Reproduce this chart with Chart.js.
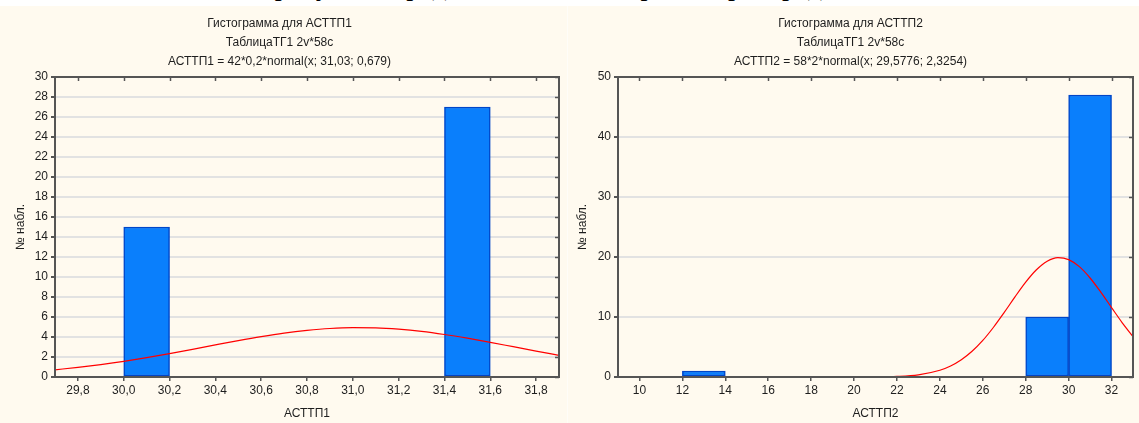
<!DOCTYPE html>
<html><head><meta charset="utf-8">
<script src="https://cdn.jsdelivr.net/npm/chart.js@4.4.1/dist/chart.umd.min.js"></script>
<style>
html,body{margin:0;padding:0;background:#fff;}
body{width:1139px;height:423px;position:relative;overflow:hidden;font-family:"Liberation Sans",Arial,sans-serif;}
#topText{position:absolute;left:0;top:-28px;width:1139px;text-align:center;font-family:"Liberation Serif","Times New Roman",serif;font-size:28px;line-height:28px;color:#000;white-space:nowrap;}
.panel{position:absolute;top:6px;height:417px;background:#fffaef;}
#p1{left:0;width:567px;}
#p2{left:568px;width:571px;}
#sep{position:absolute;left:567px;top:6px;width:1px;height:417px;background:#fffdf8;}
canvas{display:block;}
</style></head>
<body>
<div id="topText">На рисунках представлены гистограммы распределения</div>
<div class="panel" id="p1"><canvas id="c1" width="567" height="417"></canvas></div>
<div id="sep"></div>
<div class="panel" id="p2"><canvas id="c2" width="571" height="417"></canvas></div>
<script>
// ---- Chart 1 data (АСТТП1) ----
const titles1 = ["Гистограмма для АСТТП1", "ТаблицаТГ1 2v*58c", "АСТТП1 = 42*0,2*normal(x; 31,03; 0,679)"];
const binCenters1 = [30.1, 31.5];
const counts1 = [15, 27];
const curveX1 = [29.7, 29.8, 29.9, 30.0, 30.1, 30.2, 30.3, 30.4, 30.5, 30.6, 30.7, 30.8, 30.9, 31.0, 31.1, 31.2, 31.3, 31.4, 31.5, 31.6, 31.7, 31.8, 31.9];
const curveY1 = [0.72, 0.96, 1.24, 1.56, 1.93, 2.34, 2.77, 3.21, 3.64, 4.04, 4.39, 4.66, 4.85, 4.93, 4.91, 4.78, 4.56, 4.25, 3.88, 3.47, 3.03, 2.59, 2.17];
const xRange1 = [29.7, 31.9];
const xTicks1 = [29.8, 30.0, 30.2, 30.4, 30.6, 30.8, 31.0, 31.2, 31.4, 31.6, 31.8];
const xTickLabels1 = ["29,8", "30,0", "30,2", "30,4", "30,6", "30,8", "31,0", "31,2", "31,4", "31,6", "31,8"];
const yTicks1 = [0, 2, 4, 6, 8, 10, 12, 14, 16, 18, 20, 22, 24, 26, 28, 30];
const xLabel1 = "АСТТП1";

// ---- Chart 2 data (АСТТП2) ----
const titles2 = ["Гистограмма для АСТТП2", "ТаблицаТГ1 2v*58c", "АСТТП2 = 58*2*normal(x; 29,5776; 2,3254)"];
const binCenters2 = [13, 29, 31];
const counts2 = [1, 10, 47];
const curveX2 = [9, 12, 15, 18, 19, 20, 21, 22, 23, 24, 24.5, 25, 25.5, 26, 26.5, 27, 27.5, 28, 28.5, 29, 29.5, 30, 30.5, 31, 31.5, 32, 32.5, 33];
const curveY2 = [0, 0, 0, 0, 0.001, 0.004, 0.022, 0.098, 0.364, 1.12, 1.83, 2.87, 4.28, 6.09, 8.29, 10.76, 13.35, 15.81, 17.87, 19.29, 19.89, 19.57, 18.39, 16.50, 14.14, 11.57, 9.03, 6.74];
const xRange2 = [9, 33];
const xTicks2 = [10, 12, 14, 16, 18, 20, 22, 24, 26, 28, 30, 32];
const xTickLabels2 = ["10", "12", "14", "16", "18", "20", "22", "24", "26", "28", "30", "32"];
const yTicks2 = [0, 10, 20, 30, 40, 50];
const xLabel2 = "АСТТП2";

const yLabel = "№ набл.";
const FONT = '"Liberation Sans", Arial, sans-serif';
const TXT = '#1e1e1e';

const boxPlugin = {
  id: 'boxTicks',
  afterDraw(chart) {
    const {ctx, chartArea: a, scales} = chart;
    ctx.save();
    ctx.strokeStyle = '#555';
    ctx.lineWidth = 1.5;
    scales.x.ticks.forEach(t => {
      const px = Math.round(scales.x.getPixelForValue(t.value)) + 0.5;
      ctx.beginPath(); ctx.moveTo(px, a.top); ctx.lineTo(px, a.top + 4); ctx.stroke();
    });
    scales.y.ticks.forEach(t => {
      const py = Math.round(scales.y.getPixelForValue(t.value)) + 0.5;
      ctx.beginPath(); ctx.moveTo(a.right, py); ctx.lineTo(a.right - 4, py); ctx.stroke();
    });
    ctx.lineWidth = 2;
    ctx.strokeRect(a.left, a.top, a.right - a.left, a.bottom - a.top);
    ctx.restore();
  }
};

function makeChart(id, o) {
  const bars = o.centers.map((c, i) => ({x: c, y: o.counts[i]}));
  const curve = o.cx.map((c, i) => ({x: c, y: o.cy[i]}));
  return new Chart(document.getElementById(id), {
    data: {
      datasets: [
        {type: 'line', data: curve, borderColor: '#ff0000', borderWidth: 1.2, pointRadius: 0, cubicInterpolationMode: 'monotone', fill: false, order: 0},
        {type: 'bar', data: bars, backgroundColor: '#0a7ffc', borderColor: '#0046c8', borderWidth: 1.5, borderSkipped: false, barPercentage: 1, categoryPercentage: 1, order: 1}
      ]
    },
    options: {
      responsive: false,
      animation: false,
      events: [],
      layout: {padding: {left: 0, right: o.padRight, top: 0, bottom: 0}},
      plugins: {
        legend: {display: false},
        tooltip: {enabled: false},
        title: {display: true, text: o.titles, color: TXT, font: {family: FONT, size: 12, weight: 'normal', lineHeight: 19 / 12}, padding: {top: 8, bottom: 6}}
      },
      scales: {
        x: {
          type: 'linear', min: o.xr[0], max: o.xr[1], offset: false,
          afterFit: s => { s.height = 46; },
          afterBuildTicks: s => { s.ticks = o.xTicks.map(v => ({value: v})); },
          ticks: {color: TXT, font: {family: FONT, size: 12}, padding: 2, maxRotation: 0, minRotation: 0, autoSkip: false,
            callback: (v, i) => o.xTickLabels[i]},
          grid: {display: true, drawOnChartArea: false, offset: false, tickLength: 4, tickColor: '#555', lineWidth: 1.5},
          border: {display: true, color: '#555', width: 2},
          title: {display: true, text: o.xLabel, color: TXT, font: {family: FONT, size: 12}, padding: {top: 0, bottom: 2}}
        },
        y: {
          type: 'linear', min: o.yTicks[0], max: o.yTicks[o.yTicks.length - 1],
          afterFit: s => { s.width = o.yWidth; },
          afterBuildTicks: s => { s.ticks = o.yTicks.map(v => ({value: v})); },
          ticks: {color: TXT, font: {family: FONT, size: 12}, padding: 3, callback: v => String(v)},
          grid: {color: '#e2e2e2', lineWidth: 2, tickLength: 4, tickColor: '#555'},
          border: {display: true, color: '#555', width: 2},
          title: {display: true, text: yLabel, color: TXT, font: {family: FONT, size: 12}, padding: {top: o.yTitlePad, bottom: 0}}
        }
      }
    },
    plugins: [boxPlugin]
  });
}

makeChart('c1', {titles: titles1, centers: binCenters1, counts: counts1, cx: curveX1, cy: curveY1, xr: xRange1, xTicks: xTicks1, xTickLabels: xTickLabels1, yTicks: yTicks1, xLabel: xLabel1, padRight: 8, yWidth: 55, yTitlePad: 13});
makeChart('c2', {titles: titles2, centers: binCenters2, counts: counts2, cx: curveX2, cy: curveY2, xr: xRange2, xTicks: xTicks2, xTickLabels: xTickLabels2, yTicks: yTicks2, xLabel: xLabel2, padRight: 6, yWidth: 50, yTitlePad: 7});
</script>
</body></html>
